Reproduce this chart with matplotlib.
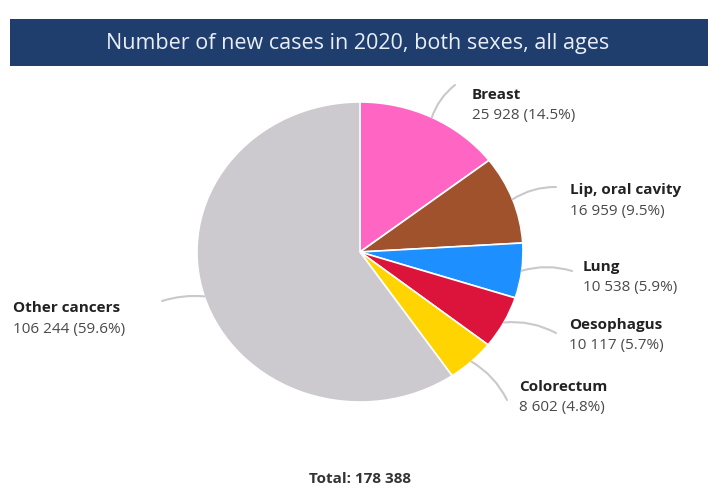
import matplotlib
matplotlib.use("Agg")
import matplotlib.pyplot as plt
from matplotlib.patches import Rectangle
import numpy as np

plt.rcParams['font.family'] = ['Open Sans', 'DejaVu Sans']

title = "Number of new cases in 2020, both sexes, all ages"
categories = ["Breast", "Lip, oral cavity", "Lung", "Oesophagus", "Colorectum", "Other cancers"]
values = [25928, 16959, 10538, 10117, 8602, 106244]
percent_labels = ["14.5%", "9.5%", "5.9%", "5.7%", "4.8%", "59.6%"]
value_labels = ["25 928", "16 959", "10 538", "10 117", "8 602", "106 244"]
total_label = "Total: 178 388"
colors = ["#ff66c4", "#a0522d", "#1e8fff", "#dc143c", "#ffd400", "#ccc9cf"]

W, H = 708, 489
fig = plt.figure(figsize=(W / 100, H / 100), dpi=100)
fig.patch.set_facecolor("white")

# overlay axes in pixel coords (y from top)
ov = fig.add_axes([0, 0, 1, 1])
ov.set_xlim(0, W)
ov.set_ylim(H, 0)
ov.axis("off")

# header band
ov.add_patch(Rectangle((10, 20), W - 10, 47, facecolor="#1f3e6e", edgecolor="none", zorder=1))
ov.text(358, 43, title, color="#e9eef6", fontsize=15.5, ha="center", va="center", zorder=2)

# pie axes
cx, cy, rx, ry = 360, 253, 163, 150
pax = fig.add_axes([(cx - rx) / W, (H - cy - ry) / H, 2 * rx / W, 2 * ry / H])
wedges, _ = pax.pie(values, colors=colors, startangle=90, counterclock=False,
                    wedgeprops=dict(edgecolor="white", linewidth=1.2), radius=1)
pax.set_aspect("auto")
pax.set_xlim(-1, 1)
pax.set_ylim(-1, 1)
pax.axis("off")

# label positions (pixel, top-left origin) and leader line ends
label_pos = [(472, 95), (570, 190), (583, 267), (569, 325), (519, 387), (13, 308)]
line_ends = [(455, 86), (556, 188), (572, 272), (556, 334), (507, 401), (162, 302)]
rads = [0.15, 0.15, 0.15, 0.15, 0.15, -0.1]

total = sum(values)
cum = 0
for i, v in enumerate(values):
    mid = 90 - 360 * (cum + v / 2) / total
    cum += v
    px = np.cos(np.radians(mid))
    py = np.sin(np.radians(mid))
    ex, ey = line_ends[i]
    pax.annotate("", xy=(px, py), xycoords="data",
                 xytext=(ex, H - ey), textcoords="figure pixels",
                 arrowprops=dict(arrowstyle="-", color="#c9c9c9", lw=1.5,
                                 connectionstyle=f"arc3,rad={rads[i]}",
                                 shrinkA=0, shrinkB=0),
                 annotation_clip=False)
    lx, ly = label_pos[i]
    ov.text(lx, ly, categories[i], fontsize=11, fontweight="bold", color="#222222",
            ha="left", va="center")
    ov.text(lx, ly + 21, f"{value_labels[i]} ({percent_labels[i]})", fontsize=11,
            color="#4a4a4a", ha="left", va="center")

ov.text(360, 479, total_label, fontsize=11, fontweight="bold", color="#333333",
        ha="center", va="center")

fig.savefig("out.png", dpi=100)
